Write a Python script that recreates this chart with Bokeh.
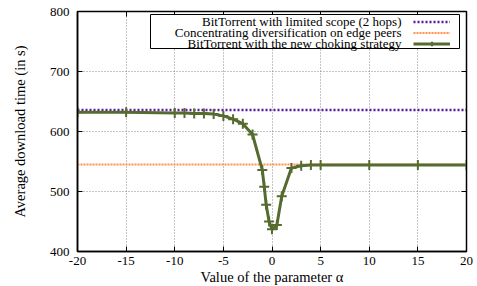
from bokeh.plotting import figure
from bokeh.models import Range1d, LinearAxis, FixedTicker, Legend, LegendItem, Label, BoxAnnotation
from bokeh.embed import file_html
from bokeh.resources import INLINE

# data
alpha = [-20, -15, -10, -9, -8, -7, -6, -5, -4, -3, -2, -1, -0.8, -0.6, -0.3, 0, 0.5, 1, 2, 3, 4, 5, 10, 15, 20]
new_choking = [632, 632, 631, 631, 630, 630, 629, 626, 620.5, 613, 595, 536, 508, 478, 450, 437, 444, 492, 539, 543, 544, 544, 544, 544, 544]
limited_x = [-20, 20]
limited_y = [636, 636]
edge_x = [-20, 20]
edge_y = [545, 545]
x_ticks = [-20, -15, -10, -5, 0, 5, 10, 15, 20]
x_tick_labels = ["-20", "-15", "-10", "-5", "0", "5", "10", "15", "20"]
y_ticks = [400, 500, 600, 700, 800]

labels = ["BitTorrent with limited scope (2 hops)",
          "Concentrating diversification on edge peers",
          "BitTorrent with the new choking strategy"]

FONT = "Liberation Serif"

p = figure(width=477, height=286, output_backend="svg", toolbar_location=None,
           x_range=Range1d(-20, 20), y_range=Range1d(400, 800),
           min_border_left=77, min_border_right=11, min_border_top=11, min_border_bottom=35)
p.frame_width = 389
p.frame_height = 240

p.outline_line_color = "black"
p.outline_line_width = 1.5
p.outline_line_alpha = 1.0

for ax in [p.xaxis[0], p.yaxis[0]]:
    ax.major_tick_in = 5
    ax.major_tick_out = 0
    ax.minor_tick_line_color = None
    ax.axis_line_color = "black"
    ax.axis_line_width = 1.5
    ax.major_label_text_font = FONT
    ax.major_label_text_font_size = "13px"
    ax.major_label_text_color = "black"
    ax.axis_label_text_font = FONT
    ax.axis_label_text_font_size = "14.5px"
    ax.axis_label_text_font_style = "normal"
    ax.axis_label_text_color = "black"

p.xaxis[0].ticker = FixedTicker(ticks=x_ticks)
p.xaxis[0].major_label_overrides = dict(zip(x_ticks, x_tick_labels))
p.yaxis[0].ticker = FixedTicker(ticks=y_ticks)
p.xaxis[0].axis_label = "Value of the parameter \u03b1"
p.yaxis[0].axis_label = "Average download time (in s)"
p.xaxis[0].major_label_standoff = 5
p.xaxis[0].axis_label_standoff = 1
p.yaxis[0].major_label_standoff = 8
p.yaxis[0].axis_label_standoff = 19

top = LinearAxis(ticker=FixedTicker(ticks=x_ticks))
right = LinearAxis(ticker=FixedTicker(ticks=y_ticks))
for ax in [top, right]:
    ax.major_tick_in = 5
    ax.major_tick_out = 0
    ax.minor_tick_line_color = None
    ax.axis_line_color = "black"
    ax.major_label_text_font_size = "0px"
    ax.major_label_standoff = 0
top.major_label_overrides = {t: "" for t in x_ticks}
right.major_label_overrides = {t: "" for t in y_ticks}
p.add_layout(top, "above")
p.add_layout(right, "right")

p.xgrid.ticker = FixedTicker(ticks=x_ticks)
p.ygrid.ticker = FixedTicker(ticks=y_ticks)
for g in [p.xgrid[0], p.ygrid[0]]:
    g.grid_line_color = "#888888"
    g.grid_line_dash = "1 2"
    g.grid_line_width = 1

r1 = p.line(limited_x, limited_y, line_color="#5a189a", line_width=2.5, line_dash="2 2")
r2 = p.line(edge_x, edge_y, line_color="#ff8f4a", line_width=2, line_dash="2 1")
r3 = p.line(alpha, new_choking, line_color="#556b2f", line_width=3)
r4 = p.scatter(alpha, new_choking, marker="cross", size=10, line_color="#556b2f", line_width=2)

# key: box, right-aligned texts, samples on the right (gnuplot style)
box = BoxAnnotation(left=73, right=382, top=237, bottom=203,
                    left_units="screen", right_units="screen",
                    top_units="screen", bottom_units="screen",
                    fill_color="white", fill_alpha=1.0,
                    line_color="black", line_width=1, line_alpha=1.0)
p.add_layout(box)

row_y = [230.5, 219, 208]
for lab, yy in zip(labels, row_y):
    p.add_layout(Label(x=324, y=yy, x_units="screen", y_units="screen", text=lab,
                       text_align="right", text_baseline="middle",
                       text_font=FONT, text_font_size="13px", text_color="black"))

legend = Legend(items=[LegendItem(label=" ", renderers=[r1]),
                       LegendItem(label=" ", renderers=[r2]),
                       LegendItem(label=" ", renderers=[r3, r4])],
                location=(336, 202))
legend.label_text_font_size = "1px"
legend.label_height = 11
legend.glyph_height = 11
legend.glyph_width = 37
legend.label_width = 0
legend.label_standoff = 0
legend.spacing = 0
legend.padding = 0
legend.margin = 0
legend.border_line_color = None
legend.background_fill_alpha = 0
p.add_layout(legend, "center")

open("out.html", "w").write(file_html(p, INLINE))
